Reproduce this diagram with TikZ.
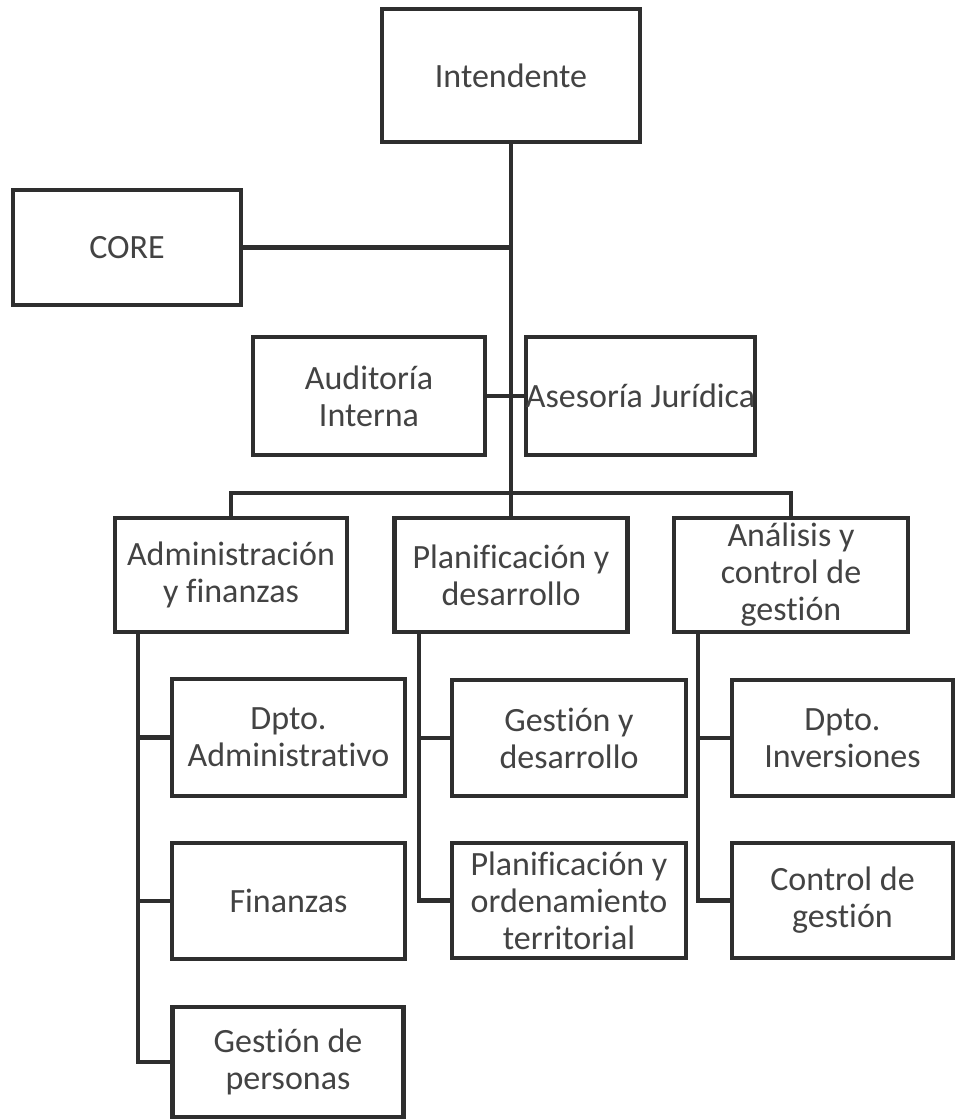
\documentclass[tikz,border=0pt]{standalone}
\usepackage{fontspec}
\setmainfont{Carlito}[Ligatures=NoCommon]
\begin{document}
\begin{tikzpicture}[x=1pt,y=-1pt,
  box/.style={draw=ink, line width=4.5pt, fill=white, inner sep=0pt, align=center,
    font=\fontsize{34}{37}\selectfont, text=ink!90},
  link/.style={draw=ink, line width=4.5pt}]
\definecolor{ink}{HTML}{2E2E2E}
\useasboundingbox (0,0) rectangle (955,1120);

% top level
\node[box, minimum width=258pt, minimum height=133pt] (int) at (511,75.5) {Intendente};
\node[box, minimum width=228pt, minimum height=115pt] (core) at (127,247.5) {CORE};
\node[box, minimum width=232pt, minimum height=118pt] (aud) at (369,396) {Auditoría\\Interna};
\node[box, minimum width=229pt, minimum height=118pt] (ase) at (640.5,396) {Asesoría Jurídica};

% divisions
\node[box, minimum width=232pt, minimum height=114pt] (adm) at (231,575) {Administración\\y finanzas};
\node[box, minimum width=233pt, minimum height=114pt] (pla) at (511,575) {Planificación y\\desarrollo};
\node[box, minimum width=234pt, minimum height=114pt] (ana) at (791,575) {Análisis y\\control de\\gestión};

% departments
\node[box, minimum width=233pt, minimum height=117pt] (dad) at (288.5,737.5) {Dpto.\\Administrativo};
\node[box, minimum width=233pt, minimum height=116pt] (fin) at (288.5,901) {Finanzas};
\node[box, minimum width=231pt, minimum height=110pt] (gpe) at (288,1062) {Gestión de\\personas};
\node[box, minimum width=234pt, minimum height=116pt] (gde) at (569,738) {Gestión y\\desarrollo};
\node[box, minimum width=234pt, minimum height=115pt] (por) at (569,900.5) {Planificación y\\ordenamiento\\territorial};
\node[box, minimum width=221pt, minimum height=116pt] (dinv) at (842.5,738) {Dpto.\\Inversiones};
\node[box, minimum width=221pt, minimum height=115pt] (cge) at (842.5,900.5) {Control de\\gestión};

% trunk and side branches
\coordinate (bar) at (511,493);
\draw[link] (int.south) -- (pla.north);
\draw[link] (core.east) -- (core.east -| int.south);
\draw[link] (aud.east) -- (ase.west);
\draw[link] (adm.north) |- (bar) -| (ana.north);

% department stems
\coordinate (sa) at (138,0);
\coordinate (sp) at (419,0);
\coordinate (sn) at (698,0);
\draw[link, line join=miter] (adm.south -| sa) |- (gpe.west);
\draw[link] (sa |- dad.west) -- (dad.west);
\draw[link] (sa |- fin.west) -- (fin.west);
\draw[link, line join=miter] (pla.south -| sp) |- (por.west);
\draw[link] (sp |- gde.west) -- (gde.west);
\draw[link, line join=miter] (ana.south -| sn) |- (cge.west);
\draw[link] (sn |- dinv.west) -- (dinv.west);
\end{tikzpicture}
\end{document}
